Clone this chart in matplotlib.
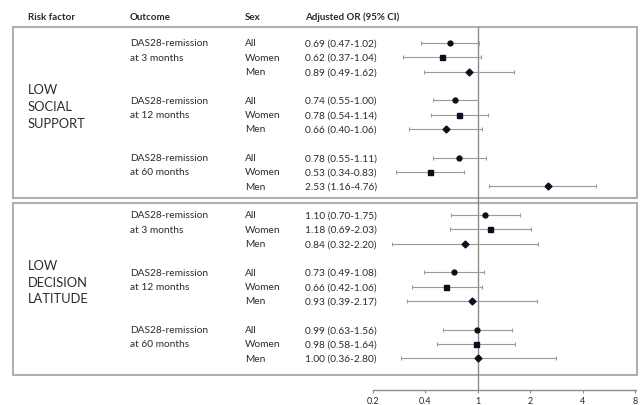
import numpy as np
import matplotlib
matplotlib.use("Agg")
from matplotlib import pyplot as plt
from matplotlib.patches import Rectangle

plt.rcParams['font.family'] = ['Lato', 'DejaVu Sans']

risk_factors = ["LOW\nSOCIAL\nSUPPORT", "LOW\nDECISION\nLATITUDE"]
outcomes = [("DAS28-remission", "at 3 months"), ("DAS28-remission", "at 12 months"),
            ("DAS28-remission", "at 60 months")]
sexes = ["All", "Women", "Men"]

odds = [0.69, 0.62, 0.89, 0.74, 0.78, 0.66, 0.78, 0.53, 2.53,
        1.10, 1.18, 0.84, 0.73, 0.66, 0.93, 0.99, 0.98, 1.00]
ci_lo = [0.47, 0.37, 0.49, 0.55, 0.54, 0.40, 0.55, 0.34, 1.16,
         0.70, 0.69, 0.32, 0.49, 0.42, 0.39, 0.63, 0.58, 0.36]
ci_hi = [1.02, 1.04, 1.62, 1.00, 1.14, 1.06, 1.11, 0.83, 4.76,
         1.75, 2.03, 2.20, 1.08, 1.06, 2.17, 1.56, 1.64, 2.80]

tick_vals = [0.25, 0.5, 1, 2, 4, 8]
tick_labels = ["0.2", "0.4", "1", "2", "4", "8"]

W, H = 641, 406
fig = plt.figure(figsize=(W / 100, H / 100), dpi=100)

# background axes in pixel units for boxes and table text
bg = fig.add_axes([0, 0, 1, 1])
bg.set_xlim(0, W)
bg.set_ylim(H, 0)
bg.axis("off")

txt = "#2b2b2b"
box_col = "#b0b0b0"
fs = 7.3
row0, drow = 44.0, 14.33

def row_y(g, s):
    return row0 + drow * (4 * g + s)

# headers
for x, lab in [(28, "Risk factor"), (130, "Outcome"), (245, "Sex"),
               (305, "Adjusted OR (95% CI)")]:
    bg.text(x, 17, lab, fontsize=7, fontweight="bold", color=txt, va="center")

# boxes
for top, bot in [(28, 199), (204, 375.5)]:
    bg.add_patch(Rectangle((13, top), 623.5, bot - top, fill=False,
                           edgecolor=box_col, lw=1.5))

# risk factor labels
for i, rf in enumerate(risk_factors):
    yc = [107, 283][i]
    bg.text(28, yc, rf, fontsize=9.3, color=txt, va="center",
            linespacing=1.45)

# table rows
for g in range(6):
    l1, l2 = outcomes[g % 3]
    bg.text(130, row_y(g, 0), l1, fontsize=fs, color=txt, va="center")
    bg.text(130, row_y(g, 1), l2, fontsize=fs, color=txt, va="center")
    for s in range(3):
        i = 3 * g + s
        y = row_y(g, s)
        bg.text(245, y, sexes[s], fontsize=fs, color=txt, va="center")
        bg.text(305, y, f"{odds[i]:.2f} ({ci_lo[i]:.2f}-{ci_hi[i]:.2f})",
                fontsize=fs, color=txt, va="center")

# forest plot axes
x0, x1, ytop, ybot = 373, 636, 28, 391
ax = fig.add_axes([x0 / W, (H - ybot) / H, (x1 - x0) / W, (ybot - ytop) / H])
ax.patch.set_alpha(0)
ax.set_xscale("log", base=2)
ax.set_xlim(0.25, 8.0 * 1.01)
ax.set_ylim(ybot, ytop)

ax.axvline(1, color="#8c8c8c", lw=1.0, zorder=1)

markers = ["o", "s", "D"]
msizes = [3.5, 3.6, 3.5]
for g in range(6):
    for s in range(3):
        i = 3 * g + s
        y = row_y(g, s)
        ax.errorbar(odds[i], y,
                    xerr=[[odds[i] - ci_lo[i]], [ci_hi[i] - odds[i]]],
                    fmt=markers[s], ms=msizes[s], color="#0d0d1f",
                    ecolor="#9a9a9a", elinewidth=0.8, capsize=1.5,
                    capthick=0.8, zorder=3)

for sp in ["top", "left", "right"]:
    ax.spines[sp].set_visible(False)
ax.spines["bottom"].set_color("#8c8c8c")
ax.spines["bottom"].set_linewidth(1.0)
ax.set_yticks([])
ax.set_xticks(tick_vals)
ax.set_xticklabels(tick_labels)
ax.minorticks_off()
ax.tick_params(axis="x", length=2, width=0.8, color="#8c8c8c",
               labelsize=6.5, labelcolor=txt, pad=2)

fig.savefig("out.png", dpi=100)
